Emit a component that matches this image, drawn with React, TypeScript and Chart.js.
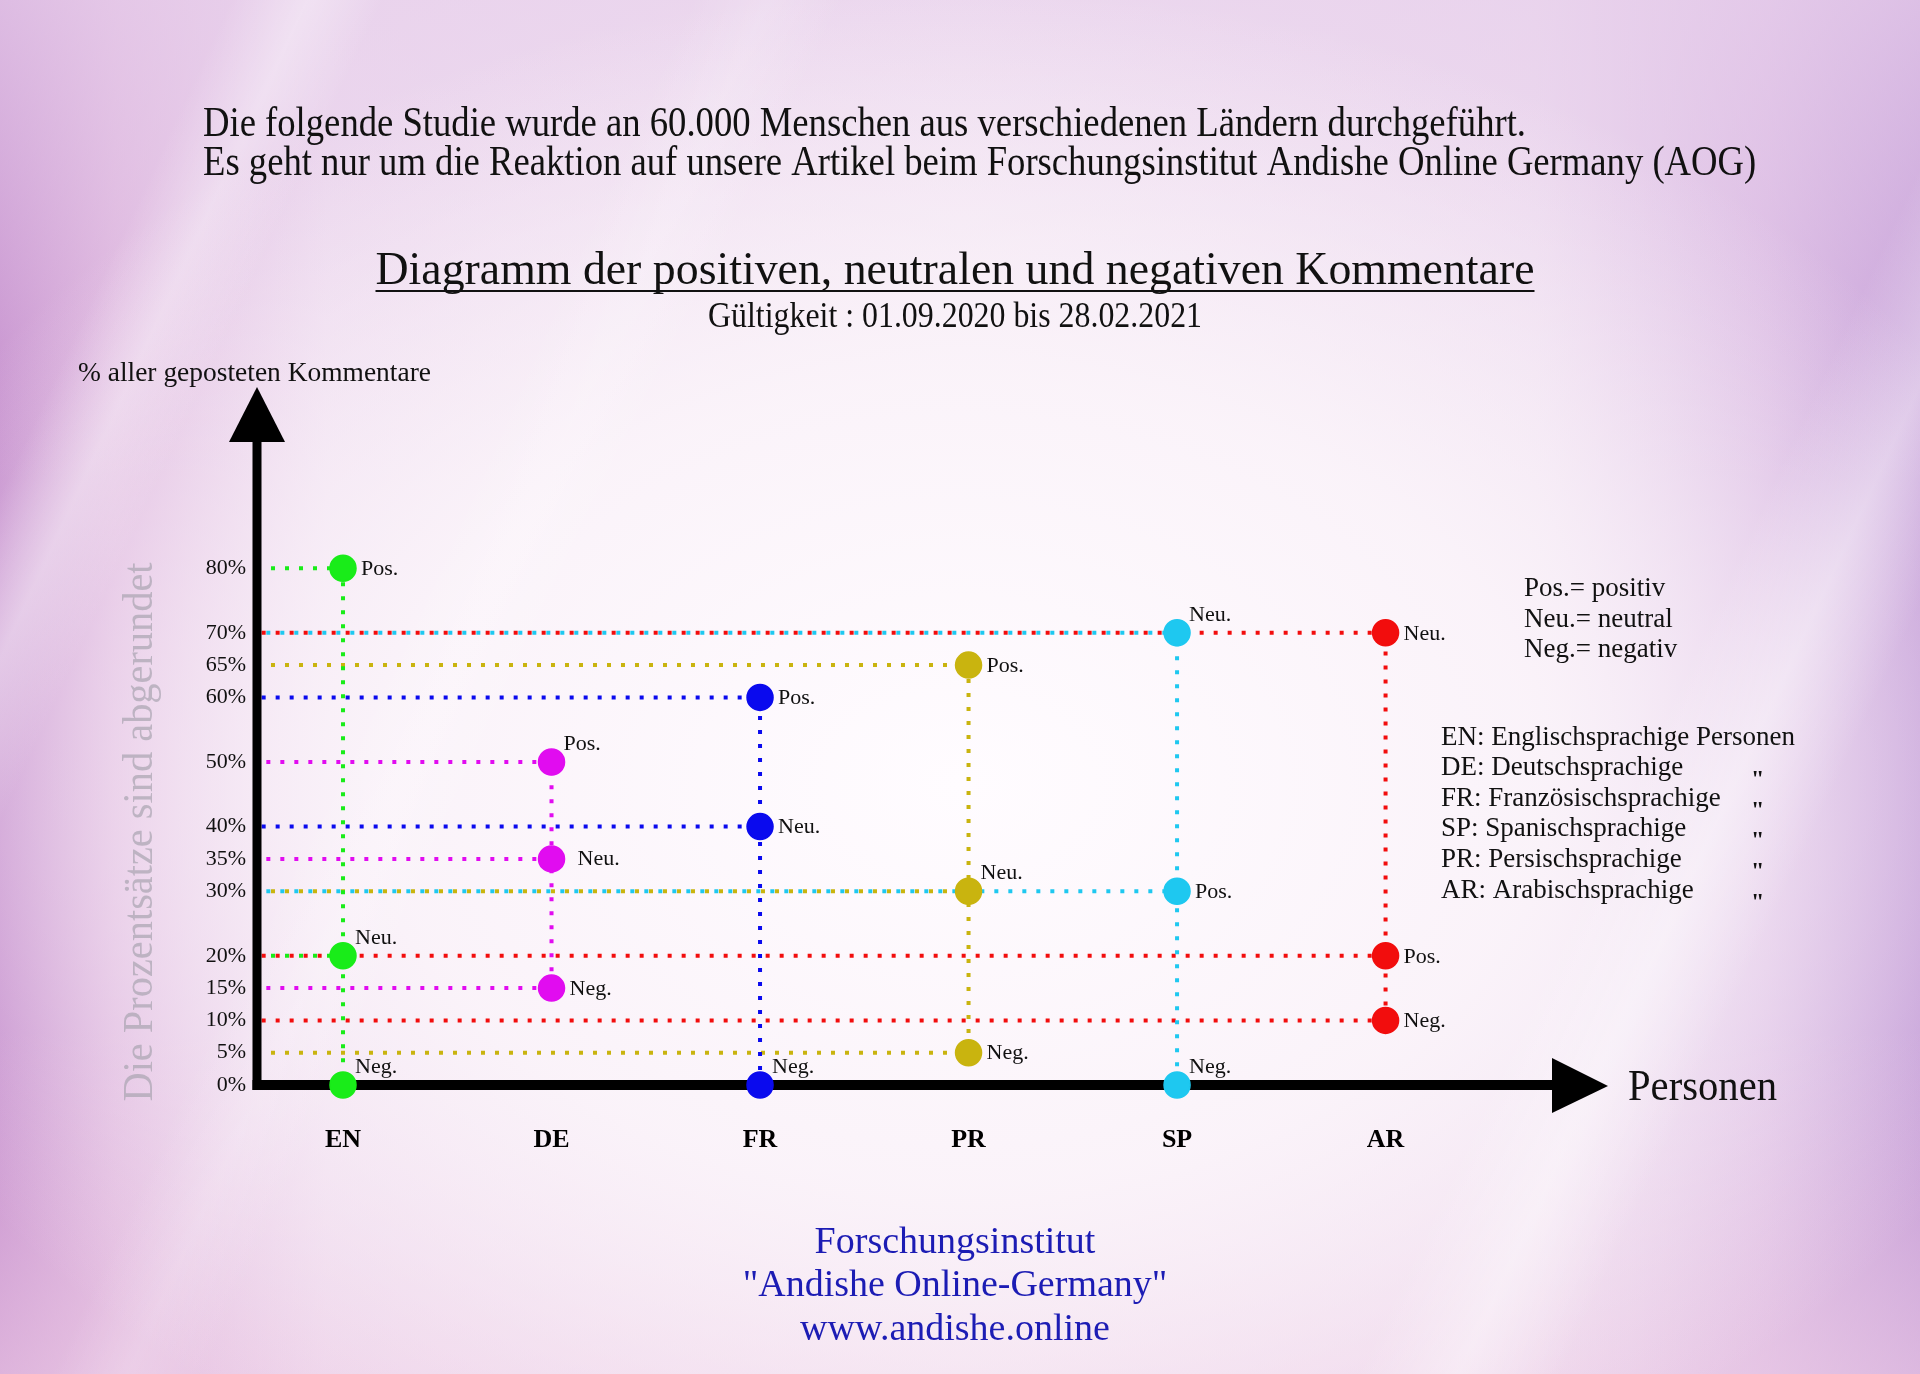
import React, { useEffect, useRef } from 'react';
import { Chart, registerables } from 'chart.js';

Chart.register(...registerables);

// ---------------- data ----------------
const categories = ['EN', 'DE', 'FR', 'PR', 'SP', 'AR'];
const positiveValues = [80, 50, 60, 65, 30, 20];
const neutralValues = [20, 35, 40, 30, 70, 70];
const negativeValues = [0, 15, 0, 5, 0, 10];
const kindLabels = ['Pos.', 'Neu.', 'Neg.'];
const yTickValues = [0, 5, 10, 15, 20, 30, 35, 40, 50, 60, 65, 70, 80];

const introLines = [
  'Die folgende Studie wurde an 60.000 Menschen aus verschiedenen Ländern durchgeführt.',
  'Es geht nur um die Reaktion auf unsere Artikel beim Forschungsinstitut Andishe Online Germany (AOG)',
];
const chartTitle = 'Diagramm der positiven, neutralen und negativen Kommentare';
const chartSubtitle = 'Gültigkeit : 01.09.2020 bis 28.02.2021';
const yAxisTitle = '% aller geposteten Kommentare';
const yAxisNote = 'Die Prozentsätze sind abgerundet';
const xAxisTitle = 'Personen';
const abbreviationLegend = ['Pos.= positiv', 'Neu.= neutral', 'Neg.= negativ'];
const languageLegend = [
  'EN: Englischsprachige Personen',
  'DE: Deutschsprachige',
  'FR: Französischsprachige',
  'SP: Spanischsprachige',
  'PR: Persischsprachige',
  'AR: Arabischsprachige',
];
const dittoMark = '"';
const footerLines = ['Forschungsinstitut', '"Andishe Online-Germany"', 'www.andishe.online'];

// ---------------- style ----------------
const FAMILY = '"Liberation Serif", "Times New Roman", Times, serif';
const colors = ['#19ec19', '#e10cf0', '#0a0aee', '#c9b40f', '#1ec8f0', '#f20d0d'];
// label placement per category: [Pos, Neu, Neg]
const labelPlacement = [
  ['r', 'ur', 'ur'],
  ['ur', 'rr', 'r'],
  ['r', 'r', 'ur'],
  ['r', 'ur', 'r'],
  ['r', 'ur', 'ur'],
  ['r', 'r', 'r'],
];
const placementOffsets: Record<string, { dx: number; dy: number }> = {
  r: { dx: 18, dy: 1 },
  rr: { dx: 26, dy: 0 },
  ur: { dx: 12, dy: -18 },
};

const W = 1920;
const H = 1374;
const X_MIN = -0.4125;
const X_MAX = 5.803;
const Y_MAX = 100;

function drawText(
  ctx: CanvasRenderingContext2D,
  text: string,
  x: number,
  y: number,
  o: { size: number; weight?: string; color?: string; align?: CanvasTextAlign; scaleX?: number; fitWidth?: number; baseline?: CanvasTextBaseline }
) {
  ctx.save();
  ctx.font = `${o.weight || 'normal'} ${o.size}px ${FAMILY}`;
  ctx.fillStyle = o.color || '#111';
  ctx.textAlign = o.align || 'left';
  ctx.textBaseline = o.baseline || 'middle';
  let sx = o.scaleX || 1;
  if (o.fitWidth) sx = o.fitWidth / ctx.measureText(text).width;
  ctx.translate(x, y);
  ctx.scale(sx, 1);
  ctx.fillText(text, 0, 0);
  const w = ctx.measureText(text).width * sx;
  ctx.restore();
  return w;
}

export default function App() {
  const canvasRef = useRef<HTMLCanvasElement | null>(null);

  useEffect(() => {
    document.body.style.margin = '0';
    const canvas = canvasRef.current;
    if (!canvas) return;

    const series = [positiveValues, neutralValues, negativeValues];
    const datasets: any[] = [];
    categories.forEach((_, i) => {
      const vals = series.map((s) => s[i]);
      const dashOffset = (i % 3) * 4.67;
      const lineStyle = {
        showLine: true,
        borderColor: colors[i],
        borderWidth: 4,
        borderDash: [4, 10],
        borderDashOffset: dashOffset,
        borderCapStyle: 'butt',
        pointRadius: 0,
        fill: false,
        order: 2,
        clip: false,
      };
      datasets.push({
        ...lineStyle,
        data: [
          { x: i, y: Math.max(...vals) },
          { x: i, y: Math.min(...vals) },
        ],
      });
      vals.forEach((v) => {
        if (v > 0) {
          datasets.push({
            ...lineStyle,
            data: [
              { x: X_MIN, y: v },
              { x: i, y: v },
            ],
          });
        }
      });
    });
    const pointStart = datasets.length;
    categories.forEach((c, i) => {
      datasets.push({
        label: c,
        data: series.map((s) => ({ x: i, y: s[i] })),
        showLine: false,
        pointRadius: 13,
        pointBorderWidth: 1.5,
        pointBackgroundColor: colors[i],
        pointBorderColor: colors[i],
        order: 1,
        clip: false,
      });
    });

    let axesDrawn = false;
    const drawAxes = (chart: any) => {
      const { ctx, chartArea: a } = chart;
      ctx.save();
      ctx.fillStyle = '#000';
      ctx.fillRect(a.left - 4.5, a.top, 9, a.bottom - a.top + 5);
      ctx.fillRect(a.left - 4.5, a.bottom - 5, a.right - a.left + 5.5, 10);
      ctx.beginPath();
      ctx.moveTo(a.left, a.top - 52);
      ctx.lineTo(a.left - 28, a.top + 3);
      ctx.lineTo(a.left + 28, a.top + 3);
      ctx.closePath();
      ctx.fill();
      ctx.beginPath();
      ctx.moveTo(a.right + 55, a.bottom + 1);
      ctx.lineTo(a.right - 1, a.bottom - 27);
      ctx.lineTo(a.right - 1, a.bottom + 28);
      ctx.closePath();
      ctx.fill();
      ctx.restore();
    };

    const decor = {
      id: 'decor',
      beforeDatasetsDraw() {
        axesDrawn = false;
      },
      beforeDatasetDraw(chart: any, args: any) {
        if (!axesDrawn && args.index >= pointStart) {
          drawAxes(chart);
          axesDrawn = true;
        }
      },
      afterDatasetsDraw(chart: any) {
        if (!axesDrawn) {
          drawAxes(chart);
          axesDrawn = true;
        }
        const ctx = chart.ctx as CanvasRenderingContext2D;
        categories.forEach((_, i) => {
          const meta = chart.getDatasetMeta(pointStart + i);
          meta.data.forEach((el: any, k: number) => {
            const off = placementOffsets[labelPlacement[i][k]];
            drawText(ctx, kindLabels[k], el.x + off.dx, el.y + off.dy, { size: 22 });
          });
        });
      },
      afterDraw(chart: any) {
        const ctx = chart.ctx as CanvasRenderingContext2D;
        // intro
        ctx.save();
        ctx.font = `42px ${FAMILY}`;
        const introScale = 1323 / ctx.measureText(introLines[0]).width;
        ctx.restore();
        drawText(ctx, introLines[0], 203, 125, { size: 42, scaleX: introScale, color: '#111' });
        drawText(ctx, introLines[1], 203, 164, { size: 42, scaleX: introScale, color: '#111' });
        // title + underline
        const tw = drawText(ctx, chartTitle, 955, 272, { size: 47, align: 'center', fitWidth: 1159, color: '#111' });
        ctx.save();
        ctx.strokeStyle = '#111';
        ctx.lineWidth = 2;
        ctx.beginPath();
        ctx.moveTo(955 - tw / 2, 291);
        ctx.lineTo(955 + tw / 2, 291);
        ctx.stroke();
        ctx.restore();
        drawText(ctx, chartSubtitle, 955, 318, { size: 35, align: 'center', fitWidth: 494, color: '#111' });
        // y axis title
        drawText(ctx, yAxisTitle, 78, 374, { size: 28, fitWidth: 353, color: '#111' });
        // rotated note
        ctx.save();
        ctx.translate(141, 832);
        ctx.rotate(-Math.PI / 2);
        drawText(ctx, yAxisNote, 0, 0, { size: 42, align: 'center', fitWidth: 539, color: 'rgba(170,165,178,0.72)' });
        ctx.restore();
        // x axis title
        drawText(ctx, xAxisTitle, 1628, 1088, { size: 45, fitWidth: 149, color: '#111' });
        // legends
        abbreviationLegend.forEach((t, k) => drawText(ctx, t, 1524, 589 + k * 30.5, { size: 27 }));
        languageLegend.forEach((t, k) => {
          const y = 737.5 + k * 30.6;
          drawText(ctx, t, 1441, y, { size: 27 });
          if (k > 0) drawText(ctx, dittoMark, 1751, y + 18, { size: 24, weight: 'bold', baseline: 'alphabetic' });
        });
        // footer
        footerLines.forEach((t, k) =>
          drawText(ctx, t, 955, 1243 + k * 43.5, { size: 38, align: 'center', color: '#1c1cb4' })
        );
      },
    };

    const chart = new Chart(canvas, {
      type: 'scatter',
      data: { datasets },
      options: {
        responsive: false,
        animation: false,
        devicePixelRatio: 1,
        events: [],
        layout: { padding: { left: 0, right: W - 1553, top: 439, bottom: 0 } },
        plugins: { legend: { display: false }, tooltip: { enabled: false }, title: { display: false } },
        scales: {
          x: {
            type: 'linear',
            min: X_MIN,
            max: X_MAX,
            grid: { display: false, drawTicks: false },
            border: { display: false },
            afterBuildTicks: (s: any) => {
              s.ticks = categories.map((_, i) => ({ value: i }));
            },
            afterFit: (s: any) => {
              s.height = H - 1085;
            },
            ticks: {
              autoSkip: false,
              maxRotation: 0,
              padding: 40,
              color: '#000',
              font: { family: FAMILY, size: 26, weight: 'bold' },
              callback: (v: any) => categories[Number(v)] ?? '',
            },
          },
          y: {
            type: 'linear',
            min: 0,
            max: Y_MAX,
            grid: { display: false, drawTicks: false },
            border: { display: false },
            afterBuildTicks: (s: any) => {
              s.ticks = yTickValues.map((v) => ({ value: v }));
            },
            afterFit: (s: any) => {
              s.width = 257;
            },
            ticks: {
              autoSkip: false,
              padding: 11,
              color: '#111',
              font: { family: FAMILY, size: 22 },
              callback: (v: any) => `${v}%`,
            },
          },
        },
      } as any,
      plugins: [decor],
    });

    return () => chart.destroy();
  }, []);

  const background = [
    'linear-gradient(115deg, rgba(255,255,255,0) 9%, rgba(255,255,255,0.35) 12%, rgba(255,255,255,0) 15%)',
    'linear-gradient(115deg, rgba(255,255,255,0) 27%, rgba(255,255,255,0.18) 30%, rgba(255,255,255,0) 33%)',
    'linear-gradient(115deg, rgba(255,255,255,0) 78%, rgba(255,255,255,0.4) 82%, rgba(255,255,255,0) 86%)',
    'radial-gradient(ellipse 60% 58% at 50% 57%, rgba(255,252,255,1) 0%, rgba(251,244,250,0.95) 50%, rgba(246,230,244,0) 100%)',
    'linear-gradient(180deg, rgba(232,208,236,0.7) 0%, rgba(245,232,245,0) 35%, rgba(245,232,245,0) 75%, rgba(238,205,230,0.6) 100%)',
    'linear-gradient(90deg, #c58ecd 0%, #dcb2dc 6%, #eddaee 17%, #f5ebf4 50%, #eddcef 80%, #d9b8e2 92%, #c29ad6 100%)',
  ].join(',');

  return (
    <div
      style={{
        position: 'absolute',
        left: 0,
        top: 0,
        width: W,
        height: H,
        overflow: 'hidden',
        background,
      }}
    >
      <canvas ref={canvasRef} width={W} height={H} style={{ display: 'block', width: W, height: H }} />
    </div>
  );
}
